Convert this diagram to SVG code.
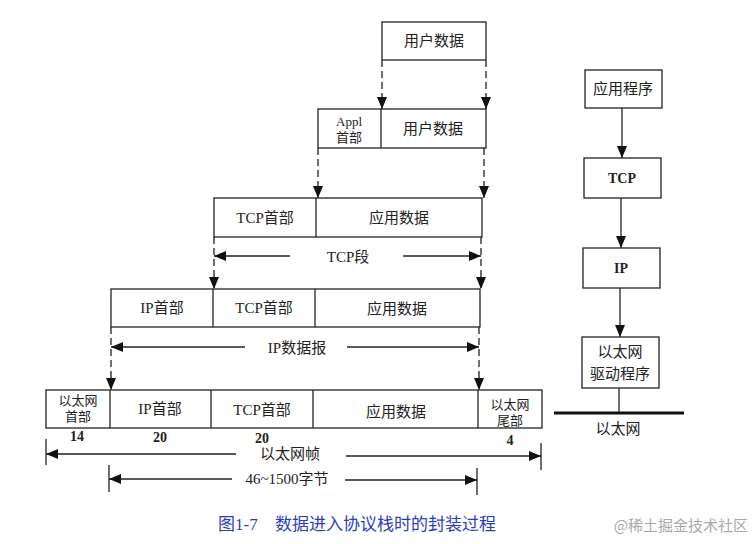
<svg xmlns="http://www.w3.org/2000/svg" width="753" height="544" viewBox="0 0 753 544">
<style>
.box{fill:#fff;stroke:#222;stroke-width:1.3}
.t{font-family:"Liberation Serif","Noto Sans CJK SC",serif;font-size:15px;fill:#222;text-anchor:middle}
.s{font-size:13px}
.b{font-weight:bold;font-size:14px}
.d{stroke:#222;stroke-width:1.3;stroke-dasharray:7,4;fill:none}
.l{stroke:#222;stroke-width:1.3;fill:none}
</style>
<defs>
<marker id="ah" markerUnits="userSpaceOnUse" markerWidth="12" markerHeight="10" refX="12" refY="5" orient="auto">
<path d="M0,0 L12,5 L0,10 z" fill="#111"/>
</marker>
</defs>
<rect width="753" height="544" fill="#fff"/>

<g id="connectors">
<line class="d" x1="382" y1="60" x2="382" y2="109" marker-end="url(#ah)"/>
<line class="d" x1="486" y1="60" x2="486" y2="109" marker-end="url(#ah)"/>
<line class="d" x1="318" y1="148" x2="318" y2="198" marker-end="url(#ah)"/>
<line class="d" x1="484" y1="148" x2="484" y2="198" marker-end="url(#ah)"/>
<line class="d" x1="214" y1="237" x2="214" y2="289" marker-end="url(#ah)"/>
<line class="d" x1="481" y1="237" x2="481" y2="289" marker-end="url(#ah)"/>
<line class="d" x1="111" y1="327" x2="111" y2="390" marker-end="url(#ah)"/>
<line class="d" x1="479" y1="327" x2="479" y2="390" marker-end="url(#ah)"/>
<line class="l" x1="290" y1="256" x2="214" y2="256" marker-end="url(#ah)"/>
<line class="l" x1="403" y1="256" x2="481" y2="256" marker-end="url(#ah)"/>
<line class="l" x1="245" y1="347" x2="111" y2="347" marker-end="url(#ah)"/>
<line class="l" x1="347" y1="347" x2="479" y2="347" marker-end="url(#ah)"/>
<line class="l" x1="46" y1="439" x2="46" y2="465"/>
<line class="l" x1="541" y1="443" x2="541" y2="470"/>
<line class="l" x1="236" y1="454" x2="46" y2="454" marker-end="url(#ah)"/>
<line class="l" x1="346" y1="456" x2="541" y2="456" marker-end="url(#ah)"/>
<line class="l" x1="109" y1="465" x2="109" y2="492"/>
<line class="l" x1="477" y1="468" x2="477" y2="495"/>
<line class="l" x1="232" y1="479" x2="109" y2="479" marker-end="url(#ah)"/>
<line class="l" x1="345" y1="480" x2="477" y2="480" marker-end="url(#ah)"/>
<line class="l" x1="622" y1="108" x2="622" y2="158" marker-end="url(#ah)"/>
<line class="l" x1="621" y1="198" x2="621" y2="248" marker-end="url(#ah)"/>
<line class="l" x1="620" y1="288" x2="620" y2="337" marker-end="url(#ah)"/>
<line class="l" x1="619" y1="388" x2="619" y2="413"/>
<line x1="554" y1="413" x2="684" y2="413" stroke="#111" stroke-width="3"/>
</g>

<g id="user-data">
<rect class="box" x="382" y="22" width="104" height="38"/>
<text class="t" x="434" y="46">用户数据</text>
</g>

<g id="appl-row">
<rect class="box" x="318" y="109" width="168" height="39"/>
<line class="l" x1="381" y1="109" x2="381" y2="148"/>
<text class="t s" x="349" y="126" font-size="12">Appl</text>
<text class="t s" x="349" y="142">首部</text>
<text class="t" x="433" y="134">用户数据</text>
</g>

<g id="tcp-row">
<rect class="box" x="214" y="198" width="268" height="39"/>
<line class="l" x1="316" y1="198" x2="316" y2="237"/>
<text class="t" x="265" y="223">TCP首部</text>
<text class="t" x="399" y="223">应用数据</text>
<text class="t" x="348" y="262">TCP段</text>
</g>

<g id="ip-row">
<rect class="box" x="111" y="289" width="369" height="38"/>
<line class="l" x1="213" y1="289" x2="213" y2="327"/>
<line class="l" x1="315" y1="289" x2="315" y2="327"/>
<text class="t" x="162" y="313">IP首部</text>
<text class="t" x="264" y="313">TCP首部</text>
<text class="t" x="397" y="314">应用数据</text>
<text class="t" x="297" y="353">IP数据报</text>
</g>

<g id="eth-row">
<rect class="box" x="46" y="390" width="496" height="38"/>
<line class="l" x1="110" y1="390" x2="110" y2="428"/>
<line class="l" x1="211" y1="390" x2="211" y2="428"/>
<line class="l" x1="313" y1="390" x2="313" y2="428"/>
<line class="l" x1="478" y1="390" x2="478" y2="428"/>
<text class="t s" x="78" y="405">以太网</text>
<text class="t s" x="78" y="421">首部</text>
<text class="t" x="160" y="414">IP首部</text>
<text class="t" x="262" y="415">TCP首部</text>
<text class="t" x="396" y="417">应用数据</text>
<text class="t s" x="510" y="409">以太网</text>
<text class="t s" x="510" y="425">尾部</text>
<text class="t b" x="77" y="441">14</text>
<text class="t b" x="160" y="442">20</text>
<text class="t b" x="262" y="443">20</text>
<text class="t b" x="510" y="445">4</text>
<text class="t" x="290" y="459">以太网帧</text>
<text class="t" x="287" y="484">46~1500字节</text>
</g>

<g id="app">
<rect class="box" x="585" y="70" width="77" height="38"/>
<text class="t" x="623" y="94">应用程序</text>
</g>
<g id="tcp">
<rect class="box" x="584" y="158" width="77" height="40"/>
<text class="t b" x="622" y="183">TCP</text>
</g>
<g id="ip">
<rect class="box" x="583" y="248" width="77" height="40"/>
<text class="t b" x="621" y="273">IP</text>
</g>
<g id="driver">
<rect class="box" x="582" y="337" width="77" height="51"/>
<text class="t" x="620" y="357">以太网</text>
<text class="t" x="620" y="379">驱动程序</text>
</g>
<g id="ethernet">
<text class="t" x="618" y="434">以太网</text>
</g>

<g id="caption">
<text y="530" font-family="Liberation Serif,'Noto Sans CJK SC',serif" font-size="17" fill="#2b3cc0"><tspan x="218">图1-7</tspan><tspan x="275">数据进入协议栈时的封装过程</tspan></text>
<text x="748" y="531" text-anchor="end" font-family="'Noto Sans CJK SC',sans-serif" font-size="15" fill="#a8a8a8">@稀土掘金技术社区</text>
</g>
</svg>
